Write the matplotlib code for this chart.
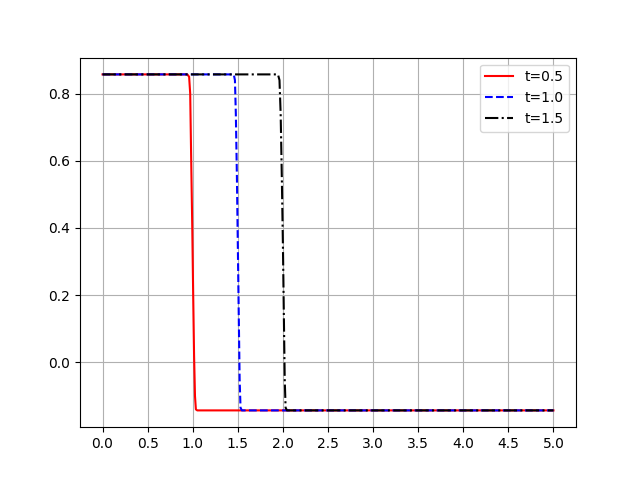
import matplotlib
matplotlib.use("Agg")
import matplotlib.pyplot as plt

hi, lo = 0.857, -0.143

x_t05 = [0.0, 0.94, 0.96, 0.972, 0.982, 0.995, 1.005, 1.015, 1.025, 1.035, 1.05, 5.0]
y_t05 = [hi, hi, 0.85, 0.80, 0.62, 0.40, 0.20, 0.02, -0.10, -0.14, lo, lo]

x_t10 = [0.0, 1.455, 1.468, 1.478, 1.49, 1.50, 1.51, 1.52, 1.53, 1.545, 5.0]
y_t10 = [hi, hi, 0.84, 0.74, 0.55, 0.35, 0.15, -0.05, -0.135, lo, lo]

x_t15 = [0.0, 1.945, 1.962, 1.975, 1.988, 2.0, 2.01, 2.02, 2.03, 2.045, 5.0]
y_t15 = [hi, hi, 0.84, 0.74, 0.55, 0.35, 0.15, -0.05, -0.135, lo, lo]

fig, ax = plt.subplots(figsize=(6.4, 4.8), dpi=100)
ax.plot(x_t05, y_t05, 'r-', label='t=0.5')
ax.plot(x_t10, y_t10, 'b--', label='t=1.0')
ax.plot(x_t15, y_t15, 'k-.', label='t=1.5')
ax.set_xticks([0, 0.5, 1.0, 1.5, 2.0, 2.5, 3.0, 3.5, 4.0, 4.5, 5.0])
ax.grid(True)
ax.legend(loc='upper right')
fig.savefig('out.png')
